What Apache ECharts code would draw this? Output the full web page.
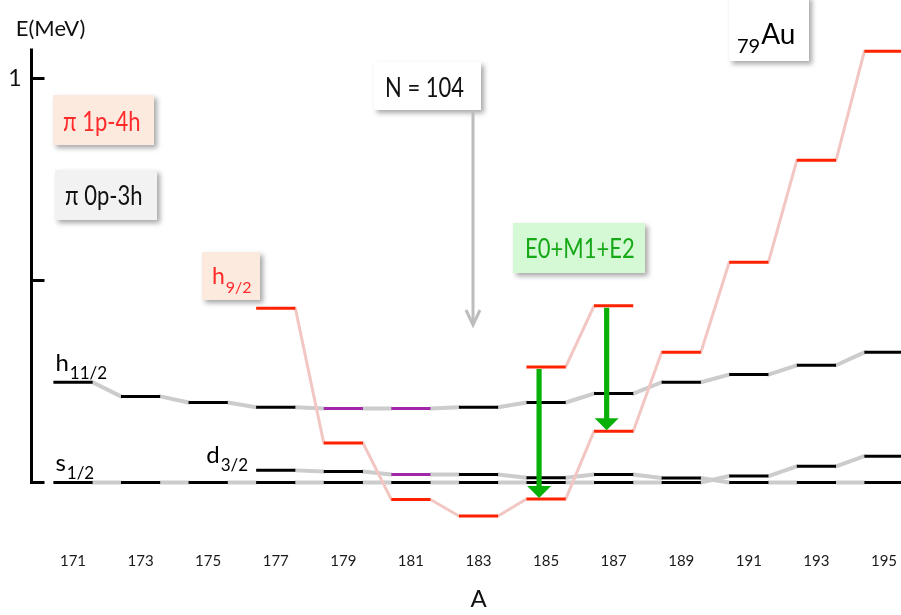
<!DOCTYPE html>
<html>
<head>
<meta charset="utf-8">
<script src="https://cdn.jsdelivr.net/npm/echarts@6/dist/echarts.min.js"></script>
<style>
  html, body { margin: 0; padding: 0; background: #ffffff; }
  #chart { width: 901px; height: 615px; }
</style>
</head>
<body>
<div id="chart"></div>
<script>
// Odd-A gold isotopes along the x axis
const massNumbers = ['171', '173', '175', '177', '179', '181', '183', '185', '187', '189', '191', '193', '195'];

// Level energies (MeV); null where a state is not shown
const s12 = [0, 0, 0, 0, 0, 0, 0, 0, 0, 0, 0.016, 0.040, 0.065];
const d32 = [null, null, null, 0.030, 0.027, 0.020, 0.020, 0.012, 0.020, 0.011, 0, 0, 0];
const h11 = [0.248, 0.213, 0.198, 0.186, 0.183, 0.183, 0.186, 0.198, 0.220, 0.248, 0.267, 0.290, 0.322];
// pi 1p-4h intruder band (h9/2) and its second member
const h9 = [null, null, null, 0.431, 0.098, -0.042, -0.083, -0.041, 0.127, 0.322, 0.545, 0.797, 1.067];
const h9Second = [null, null, null, null, null, null, null, 0.286, 0.437, null, null, null, null];

// Strongly mixed states
const mixedH11 = ['179', '181'];
const mixedD32 = ['181'];

// E0+M1+E2 decays from the second 1p-4h state down to the band head
const transitionMasses = ['185', '187'];

// Energy axis ticks and labels
const yTicks = [0, 0.5, 1];
const yLabels = [1];

const FONT = 'Lato';
const PURPLE = '#a126a8';
const RED = '#ff2200';
const GREEN = '#08b008';

const chart = echarts.init(document.getElementById('chart'), null, { renderer: 'canvas' });

function subLabel(main, sub, color, size) {
  return {
    text: '{b|' + main + '}{s|' + sub + '}',
    fill: color,
    rich: {
      b: { fontFamily: FONT, fontSize: size, lineHeight: size + 2, verticalAlign: 'top', fill: color },
      s: { fontFamily: FONT, fontSize: Math.round(size * 0.7), lineHeight: Math.round(size * 0.72),
           padding: [Math.round(size * 0.6), 0, 0, 1], verticalAlign: 'top', fill: color }
    }
  };
}

function levelSeries(cfg) {
  const items = [];
  cfg.values.forEach(function (v, k) { if (v !== null) items.push([k, v]); });
  return {
    type: 'custom',
    name: cfg.name,
    coordinateSystem: 'cartesian2d',
    clip: false,
    silent: true,
    z: 3,
    data: items,
    encode: { x: 0, y: 1 },
    renderItem: function (params, api) {
      const idx = params.dataIndex;
      const cat = api.value(0);
      const p = api.coord([cat, api.value(1)]);
      const half = api.size([1, 0])[0] * 0.29;
      const mixed = cfg.mixed.indexOf(massNumbers[cat]) >= 0;
      const children = [];
      children.push({
        type: 'line',
        shape: { x1: p[0] - half, y1: p[1], x2: p[0] + half, y2: p[1] },
        style: { stroke: mixed ? PURPLE : cfg.color, lineWidth: 3 },
        z2: 10
      });
      if (idx > 0) {
        const q = api.coord(items[idx - 1]);
        children.push({
          type: 'line',
          shape: { x1: q[0] + half, y1: q[1], x2: p[0] - half, y2: p[1] },
          style: { stroke: cfg.link, lineWidth: cfg.linkWidth, lineCap: 'round' },
          z2: cfg.linkZ
        });
      }
      if (idx === 0 && cfg.label) {
        const st = subLabel(cfg.label[0], cfg.label[1], '#000000', 24);
        if (cfg.labelSide === 'left') {
          st.align = 'right'; st.verticalAlign = 'bottom';
          children.push({ type: 'text', x: p[0] - half - 8, y: p[1] - 1, style: st, z2: 12 });
        } else {
          st.align = 'left'; st.verticalAlign = 'bottom';
          children.push({ type: 'text', x: p[0] - half + 2, y: p[1] - 5, style: st, z2: 12 });
        }
      }
      return { type: 'group', children: children };
    }
  };
}

// Green decay arrows, drawn from the level energies
const transitionData = transitionMasses.map(function (m) {
  const k = massNumbers.indexOf(m);
  return [k, h9Second[k], h9[k]];
});

const transitionSeries = {
  type: 'custom',
  name: 'E0+M1+E2',
  coordinateSystem: 'cartesian2d',
  clip: false,
  silent: true,
  z: 4,
  data: transitionData,
  encode: { x: 0, y: [1, 2] },
  renderItem: function (params, api) {
    const top = api.coord([api.value(0), api.value(1)]);
    const tip = api.coord([api.value(0), api.value(2)]);
    const x = top[0] - 7;
    const headH = 13, headW = 12, shaft = 2.6;
    return {
      type: 'polygon',
      shape: {
        points: [
          [x - shaft, top[1] + 2], [x + shaft, top[1] + 2],
          [x + shaft, tip[1] - headH], [x + headW, tip[1] - headH],
          [x, tip[1] - 1], [x - headW, tip[1] - headH],
          [x - shaft, tip[1] - headH]
        ]
      },
      style: { fill: GREEN },
      z2: 20
    };
  }
};

// Annotation box helper
function box(x, y, w, h, bg, textEl) {
  return {
    type: 'group',
    silent: true,
    z: 20,
    children: [
      { type: 'rect', shape: { x: x, y: y, width: w, height: h },
        style: { fill: bg, shadowBlur: 5, shadowOffsetX: 3, shadowOffsetY: 3, shadowColor: 'rgba(0,0,0,0.35)' } },
      textEl
    ]
  };
}

function plainText(x, y, text, color, size) {
  return { type: 'text', x: x, y: y, scaleY: 1.2,
    style: { text: text, fill: color, fontFamily: FONT, fontSize: size, align: 'left', verticalAlign: 'middle' } };
}

const h92Style = subLabel('h', '9/2', '#ff2a2a', 23);
h92Style.align = 'left'; h92Style.verticalAlign = 'middle';

const auStyle = {
  text: '{s|79}{b|Au}',
  fill: '#000',
  align: 'left', verticalAlign: 'middle',
  rich: {
    s: { fontFamily: FONT, fontSize: 20, lineHeight: 20, padding: [16, 1, 0, 0], verticalAlign: 'top', fill: '#000' },
    b: { fontFamily: FONT, fontSize: 28, lineHeight: 30, verticalAlign: 'top', fill: '#000' }
  }
};

const option = {
  backgroundColor: '#ffffff',
  animation: false,
  textStyle: { fontFamily: FONT },
  grid: { left: 39.2, width: 878.6, top: 50, height: 432.5, containLabel: false, outerBoundsMode: 'none' },
  xAxis: {
    type: 'category',
    data: massNumbers,
    boundaryGap: true,
    axisLine: { show: false },
    axisTick: { show: false },
    splitLine: { show: false },
    axisLabel: { margin: 71, fontFamily: FONT, fontSize: 15, color: '#1a1a1a' },
    name: 'A',
    nameLocation: 'middle',
    nameGap: 105,
    nameTextStyle: { fontFamily: FONT, fontSize: 24, color: '#111111' }
  },
  yAxis: {
    type: 'value',
    min: 0,
    max: 1.07,
    offset: 7.7,
    splitLine: { show: false },
    axisLine: { show: true, lineStyle: { color: '#000000', width: 3, cap: 'square' } },
    axisTick: { show: true, inside: true, length: 13, customValues: yTicks, lineStyle: { color: '#000000', width: 3 } },
    axisLabel: { customValues: yLabels, margin: 10, fontFamily: FONT, fontSize: 23, color: '#111111' },
    name: 'E(MeV)',
    nameLocation: 'end',
    nameGap: 10,
    nameTextStyle: { fontFamily: FONT, fontSize: 22, color: '#111111', align: 'center', padding: [0, 0, 0, 38] }
  },
  series: [
    levelSeries({ name: 's1/2', values: s12, color: '#000000', link: '#cccccc', linkWidth: 4, linkZ: 1,
      mixed: [], label: ['s', '1/2'], labelSide: 'above' }),
    levelSeries({ name: 'd3/2', values: d32, color: '#000000', link: '#cccccc', linkWidth: 4, linkZ: 1,
      mixed: mixedD32, label: ['d', '3/2'], labelSide: 'left' }),
    levelSeries({ name: 'h11/2', values: h11, color: '#000000', link: '#cccccc', linkWidth: 4, linkZ: 1,
      mixed: mixedH11, label: ['h', '11/2'], labelSide: 'above' }),
    levelSeries({ name: 'h9/2', values: h9, color: RED, link: '#f2c6c2', linkWidth: 3, linkZ: 2,
      mixed: [], label: null }),
    levelSeries({ name: 'h9/2 second', values: h9Second, color: RED, link: '#f2c6c2', linkWidth: 3, linkZ: 2,
      mixed: [], label: null }),
    transitionSeries
  ],
  graphic: [
    box(53, 95, 101, 50, '#fdeadf', plainText(63, 122, 'π 1p-4h', '#ff2a2a', 22)),
    box(55, 170, 102, 50, '#f2f2f2', plainText(65, 196, 'π 0p-3h', '#111111', 22)),
    box(202, 252, 58, 48, '#fdeadf', { type: 'text', x: 212, y: 278, style: h92Style }),
    box(374, 62, 107, 48, '#ffffff', plainText(385, 88, 'N = 104', '#111111', 22)),
    box(729, -4, 80, 65, '#ffffff', { type: 'text', x: 737, y: 36, style: auStyle }),
    box(513, 223, 132, 50, '#d5f8d5', plainText(525, 249, 'E0+M1+E2', '#17a817', 22)),
    // N = 104 pointer
    { type: 'line', silent: true, z: 15,
      shape: { x1: 473, y1: 112, x2: 473, y2: 324 },
      style: { stroke: '#bdbdbd', lineWidth: 3 } },
    { type: 'polyline', silent: true, z: 15,
      shape: { points: [[466, 310], [473, 325], [480, 310]] },
      style: { stroke: '#bdbdbd', lineWidth: 3, fill: null, lineJoin: 'miter' } }
  ]
};

chart.setOption(option);
</script>
</body>
</html>
